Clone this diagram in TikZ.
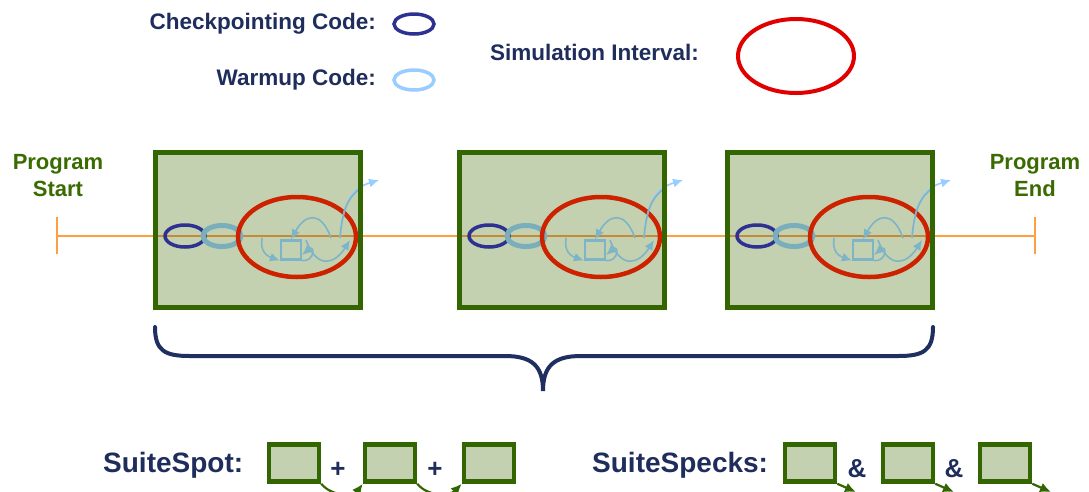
\documentclass[tikz,border=0pt]{standalone}
\usepackage{fontspec}
\setmainfont{Liberation Sans}
\usetikzlibrary{arrows.meta}
\definecolor{navytext}{HTML}{1F2D5C}
\definecolor{ckpt}{HTML}{2E3192}
\definecolor{warm}{HTML}{99CCFF}
\definecolor{warmin}{HTML}{7AAEBD}
\definecolor{flowin}{HTML}{7DB4C8}
\definecolor{simred}{HTML}{E00000}
\definecolor{simredin}{HTML}{CC2200}
\definecolor{boxfill}{HTML}{C3D1B0}
\definecolor{boxedge}{HTML}{336600}
\definecolor{labgreen}{HTML}{3A6B00}
\definecolor{timeline}{HTML}{FFA040}
\definecolor{timelinein}{HTML}{C48A35}
\definecolor{bracecol}{HTML}{1F3060}
\tikzset{
  lbl/.style={font=\fontsize{22.5}{26}\selectfont\bfseries, text=navytext, inner sep=0},
  biglbl/.style={font=\fontsize{28}{32}\selectfont\bfseries, text=navytext, inner sep=0},
  opsym/.style={font=\fontsize{26}{30}\selectfont\bfseries, text=navytext, inner sep=0},
  endlbl/.style={font=\fontsize{22}{27}\selectfont\bfseries, text=labgreen, align=center, inner sep=0},
  flowtip/.style={-{Latex[length=10pt,width=9pt]}},
  flow/.style={flowtip, draw=flowin, line width=1.6pt},
  minibox/.style={draw=boxedge, fill=boxfill, line width=4.5pt, minimum width=50pt, minimum height=37pt, inner sep=0},
  chain/.style={draw=boxedge, line width=2.2pt, -{Latex[length=11pt,width=10pt]}},
  sample/.pic={
    \fill[boxfill] (0,0) rectangle (205,155);
    \draw[timelinein, line width=2pt] (2,84) -- (203,84);
    \draw[ckpt, line width=3.5pt] (30,84) ellipse [x radius=20pt, y radius=11pt];
    \draw[warmin, line width=5pt] (67,84) ellipse [x radius=19pt, y radius=10.5pt];
    \draw[simredin, line width=4.5pt] (142,85) ellipse [x radius=59pt, y radius=40pt];
    \node[draw=flowin, line width=2.2pt, minimum width=20pt, minimum height=19pt, inner sep=0] (sq) at (136,98) {};
    \coordinate (a0) at (107,86);
    \coordinate (w0) at (176,86);
    \coordinate (v0) at (151,88);
    \coordinate (v1) at (195,88);
    \coordinate (l0) at (185,86);
    \coordinate (l1) at (224,28);
    \draw[flow] (a0) .. controls (105,100) and (112,104) .. (sq.south west);
    \draw[flow] (sq.south east) .. controls (160,110) and (160,92) .. ([yshift=-5pt]sq.east);
    \draw[flow] (w0) .. controls (166,58) and (150,62) .. (sq.north);
    \draw[flow] (v0) .. controls (162,118) and (180,112) .. (v1);
    \draw[flowtip, draw=warm, line width=1.6pt] (l0) .. controls (188,48) and (198,36) .. (l1);
    \begin{scope}
      \clip (0,0) rectangle (205,155);
      \draw[flowin, line width=1.6pt] (l0) .. controls (188,48) and (198,36) .. (l1);
    \end{scope}
    \draw[boxedge, line width=5pt] (0,0) rectangle (205,155);
  }
}
\begin{document}
\begin{tikzpicture}[x=1pt,y=-1pt]
\useasboundingbox (0,0) rectangle (1089,491);
\clip (0,0) rectangle (1089,491);

% legend
\node[lbl, anchor=east] (ckptlbl) at (376,24) {Checkpointing Code:};
\node[lbl, anchor=east] (warmlbl) at (376,80) {Warmup Code:};
\node[lbl, anchor=west] (simlbl) at (490,52) {Simulation Interval:};
\draw[ckpt, line width=3.5pt] (414,24) ellipse [x radius=20pt, y radius=10pt];
\draw[warm, line width=3.5pt] (414,80) ellipse [x radius=20pt, y radius=10pt];
\draw[simred, line width=4pt] (796,56) ellipse [x radius=58pt, y radius=37pt];

% program time line
\node[endlbl] (startlbl) at (58,176) {Program\\Start};
\node[endlbl] (endlbl) at (1035,176) {Program\\End};
\coordinate (t0) at (57,236);
\coordinate (t1) at (1035,236);
\draw[timeline, line width=2pt] (t0) -- (t1);
\draw[timeline, line width=2pt] ([yshift=-18pt]t0) -- ([yshift=19pt]t0);
\draw[timeline, line width=2pt] ([yshift=-18pt]t1) -- ([yshift=19pt]t1);

% sampled intervals
\pic (s1) at (155,152) {sample};
\pic (s2) at (459,152) {sample};
\pic (s3) at (727,152) {sample};

% brace below the samples
\draw[bracecol, line width=4pt, line cap=round]
  (155,327) .. controls (155,351) and (165,356) .. (190,356)
  -- (505,356) .. controls (532,356) and (543,366) .. (543,391)
  .. controls (543,366) and (554,356) .. (581,356)
  -- (898,356) .. controls (923,356) and (933,351) .. (933,327);

% SuiteSpot
\node[biglbl, anchor=west] (spotlbl) at (103,465) {SuiteSpot:};
\node[minibox] (pa) at (294,463) {};
\node[minibox] (pb) at (390,463) {};
\node[minibox] (pc) at (489,463) {};
\node[opsym] (plus1) at (338,470) {+};
\node[opsym] (plus2) at (435,470) {+};
\draw[chain] (pa.south east) .. controls (332,497) and (354,496) .. (pb.south west);
\draw[chain] (pb.south east) .. controls (428,497) and (450,496) .. (pc.south west);

% SuiteSpecks
\node[biglbl, anchor=west] (specklbl) at (592,465) {SuiteSpecks:};
\node[minibox] (ka) at (810,463) {};
\node[minibox] (kb) at (908,463) {};
\node[minibox] (kc) at (1005,463) {};
\node[opsym] (amp1) at (857,469) {\&};
\node[opsym] (amp2) at (954,469) {\&};
\coordinate (kaout) at (856,492);
\coordinate (kbout) at (954,492);
\coordinate (kcout) at (1051,492);
\draw[chain] (ka.south east) -- (kaout);
\draw[chain] (kb.south east) -- (kbout);
\draw[chain] (kc.south east) -- (kcout);
\end{tikzpicture}
\end{document}
